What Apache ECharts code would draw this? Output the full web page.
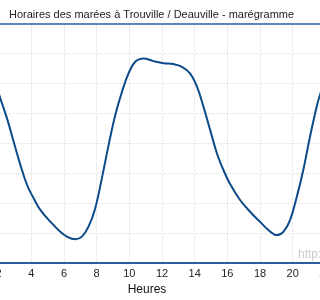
<!DOCTYPE html>
<html><head><meta charset="utf-8">
<script src="https://cdn.jsdelivr.net/npm/echarts@6/dist/echarts.min.js"></script>
<style>html,body{margin:0;padding:0;background:#fff;overflow:hidden;width:320px;height:300px;position:relative}#c{position:absolute;left:-34px;top:0;width:392px;height:300px}</style>
</head><body><div id="c"></div>
<script>
const titleText = "Horaires des marées à Trouville / Deauville - marégramme";
const xAxisName = "Heures";
const creditText = "http://www.horaire-maree.fr";
const xTicks = [0, 24, 2];      // min, max, interval (hours)
const yTicks = [0, 8, 1];       // min, max, interval (m)
const hours = [0, 1, 1.5, 1.8, 2.1, 2.51, 2.92, 3.33, 3.74, 4.14, 4.55, 5.16, 5.77, 6.18, 6.69, 7.1, 7.5, 7.91, 8.32, 8.73, 9.14, 9.55, 9.95, 10.36, 10.87, 11.48, 12.09, 12.7, 13.22, 13.72, 14.14, 14.54, 14.95, 15.36, 15.76, 16.17, 16.78, 17.39, 18.01, 18.51, 19.03, 19.43, 19.84, 20.25, 20.65, 21.06, 21.47, 21.67, 22.2, 22.8, 23.4, 24];
const heights = [6.7, 6.6, 6.35, 6.0, 5.49, 4.82, 4.04, 3.27, 2.6, 2.16, 1.77, 1.38, 1.04, 0.88, 0.79, 0.88, 1.21, 1.82, 2.83, 3.93, 4.93, 5.71, 6.32, 6.71, 6.82, 6.73, 6.66, 6.63, 6.54, 6.32, 5.88, 5.21, 4.43, 3.66, 3.1, 2.63, 2.1, 1.71, 1.37, 1.1, 0.93, 1.04, 1.43, 2.2, 3.1, 4.21, 5.21, 5.6, 6.4, 6.85, 6.8, 6.7];

const OFF = 34; // page is shifted left by this many pixels
const chart = echarts.init(document.getElementById('c'));
chart.setOption({
  animation: false,
  title: {text: titleText, left: 4 + OFF, top: 4, textStyle: {fontFamily: 'Liberation Sans', fontSize: 11, fontWeight: 'normal', color: '#222'}},
  grid: {left: 0, right: 0, top: 23, bottom: 37, containLabel: false, outerBoundsMode: 'none'},
  xAxis: {
    type: 'value', min: xTicks[0], max: xTicks[1], interval: xTicks[2],
    name: xAxisName, nameLocation: 'middle', nameGap: 17,
    nameTextStyle: {fontFamily: 'Liberation Sans', fontSize: 12, color: '#111', padding: [0, 30, 0, 0]},
    axisLine: {lineStyle: {color: '#2e5c96', width: 2}},
    axisTick: {show: false},
    axisLabel: {fontFamily: 'Liberation Sans', fontSize: 11, color: '#222', margin: 5},
    splitLine: {show: true, lineStyle: {color: '#dddddd', type: 'dotted', width: 1}}
  },
  yAxis: {
    type: 'value', min: yTicks[0], max: yTicks[1], interval: yTicks[2],
    axisLine: {show: false}, axisTick: {show: false}, axisLabel: {show: false},
    splitLine: {show: true, lineStyle: {color: '#dddddd', type: 'dotted', width: 1}}
  },
  graphic: [
    {type: 'line', shape: {x1: OFF, y1: 24, x2: 320 + OFF, y2: 24}, style: {stroke: '#5b86b5', lineWidth: 2}, z: 100},
    {type: 'text', left: 298 + OFF, top: 249, style: {text: creditText, fontFamily: 'Liberation Sans', fontSize: 12, fill: '#cccccc'}, z: 0}
  ],
  series: [{
    type: 'line', smooth: 0.4, symbol: 'none',
    data: hours.map((h, i) => [h, heights[i]]),
    lineStyle: {color: '#0c4a8a', width: 2}
  }]
});
</script></body></html>
